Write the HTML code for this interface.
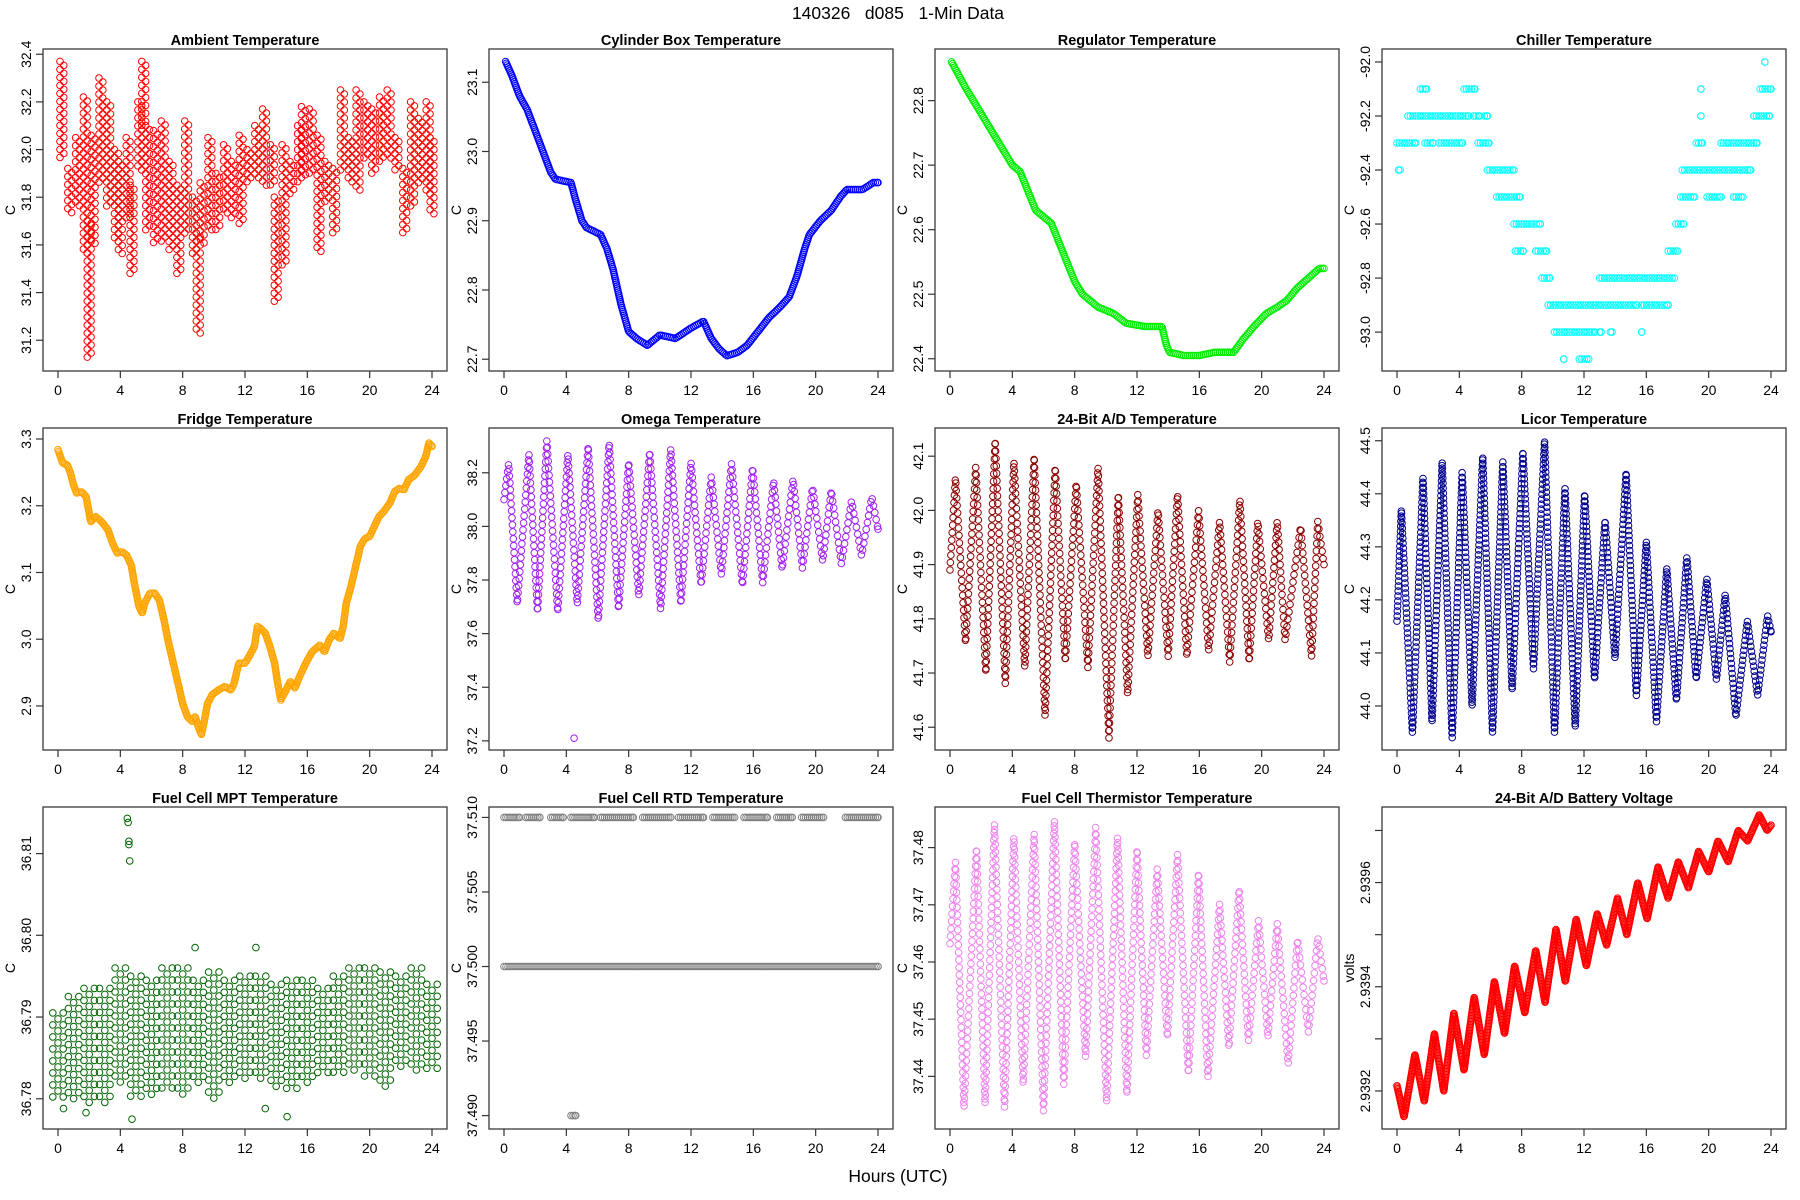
<!DOCTYPE html>
<html>
<head>
<meta charset="utf-8">
<style>
  html,body{margin:0;padding:0;background:#fff;}
  svg{display:block;font-family:"Liberation Sans",Arial,sans-serif;}
</style>
</head>
<body>
<svg id="fig" width="1800" height="1200" viewBox="0 0 1800 1200" xmlns="http://www.w3.org/2000/svg">
  <rect x="0" y="0" width="1800" height="1200" fill="#fff"/>
  <text x="898" y="19" text-anchor="middle" font-size="17.5" fill="#000" xml:space="preserve">140326   d085   1-Min Data</text>
  <text x="898" y="1182" text-anchor="middle" font-size="17.5" fill="#000">Hours (UTC)</text>
</svg>
<script>
// ---------------- DATA ----------------
const ambBinT = [0.25,0.75,1.25,1.75,2.0,2.25,2.75,3.25,3.75,4.0,4.5,4.75,5.25,5.5,5.75,6.25,6.75,7.25,7.75,8.25,8.75,9.0,9.25,9.75,10.25,10.75,11.25,11.75,12.25,12.75,13.25,13.75,14.0,14.5,15.0,15.5,15.75,16.25,16.75,17.25,17.75,18.25,18.75,19.25,19.75,20.25,20.75,21.25,21.75,22.25,22.75,23.25,23.75,24.0];
const ambLo = [31.96,31.72,31.75,31.55,31.12,31.6,31.85,31.75,31.6,31.55,31.7,31.48,31.9,32.1,31.65,31.6,31.6,31.57,31.48,31.65,31.55,31.22,31.6,31.66,31.65,31.72,31.7,31.68,31.85,31.88,31.85,31.85,31.35,31.5,31.8,31.85,31.88,31.9,31.57,31.78,31.64,31.9,31.85,31.83,31.95,31.9,31.95,31.95,31.9,31.65,31.75,31.85,31.8,31.72];
const ambHi = [32.37,31.92,32.05,32.22,31.7,32.06,32.3,32.2,32.0,31.95,32.05,31.85,32.2,32.37,32.1,32.08,32.12,31.95,31.85,32.12,31.8,31.65,31.86,32.05,31.9,32.02,31.95,32.06,32.0,32.1,32.17,32.02,31.8,32.02,31.95,32.1,32.18,32.17,32.06,31.95,31.92,32.25,32.05,32.25,32.2,32.17,32.22,32.25,32.05,31.92,32.2,32.13,32.2,32.05];

const cylT = [0.1,0.5,1.0,1.5,2.0,2.5,3.0,3.3,4.3,4.6,5.0,5.3,6.2,6.6,7.0,7.5,8.0,8.5,9.2,10.0,11.0,12.0,12.8,13.3,13.8,14.3,15.0,15.6,16.3,17.0,17.7,18.3,18.8,19.3,19.6,20.3,21.0,21.6,22.0,23.0,23.7,24.0];
const cylV = [23.13,23.11,23.08,23.06,23.03,23.00,22.97,22.96,22.955,22.93,22.90,22.89,22.88,22.86,22.83,22.78,22.74,22.73,22.72,22.735,22.73,22.745,22.755,22.73,22.715,22.705,22.71,22.72,22.74,22.76,22.775,22.79,22.82,22.86,22.88,22.90,22.915,22.935,22.945,22.945,22.955,22.955];

const regT = [0.1,1,2,3,4,4.5,5,5.5,6.5,7.0,7.5,8.0,8.5,9.0,9.5,10.5,11.3,12.5,13.6,13.9,14.1,15.0,16.0,17.0,18.2,18.8,19.5,20.3,21.0,21.6,22.3,23.0,23.7,24];
const regV = [22.86,22.82,22.78,22.74,22.70,22.69,22.66,22.63,22.61,22.58,22.55,22.52,22.50,22.49,22.48,22.47,22.455,22.45,22.45,22.42,22.41,22.405,22.405,22.41,22.41,22.43,22.45,22.47,22.48,22.49,22.51,22.525,22.54,22.54];

const chillLevel = [-92.3,-92.3,-92.3,-92.3,-92.4,-92.2,-92.2,-92.2,-92.1,-92.1,-92.4,-92.5,-92.6,-92.7,-92.7,-92.8,-92.9,-92.9,-93.0,-93.0,-93.0,-93.0,-93.1,-93.1,-92.8,-92.7,-92.6,-92.5,-92.5,-92.5,-92.4,-92.3,-92.3,-92.2,-92.2,-92.1,-92.1,-92.0];
const chillStart = [0.0,1.8,2.7,5.2,0.1,0.7,4.9,5.6,1.5,4.3,5.8,6.4,7.5,7.6,8.9,9.3,9.7,15.7,10.1,13.0,13.7,15.7,10.7,11.7,13.0,17.4,17.9,18.2,19.9,21.6,18.3,19.2,20.8,19.5,22.9,19.5,23.3,23.6];
const chillEnd = [1.2,2.3,4.2,5.9,0.2,4.6,5.3,5.8,1.9,5.0,7.5,7.9,9.2,8.1,9.6,9.8,15.4,17.4,12.7,13.1,13.8,15.7,10.7,12.3,17.8,18.0,18.4,19.1,20.8,22.2,22.7,19.6,23.1,19.5,23.9,19.5,24.0,23.6];

const fridgeT = [0,0.3,0.6,0.8,1.0,1.2,1.5,1.8,2.0,2.1,2.4,2.8,3.2,3.5,3.8,4.1,4.4,4.7,4.9,5.2,5.4,5.6,5.9,6.2,6.5,6.8,7.1,7.4,7.7,8.0,8.3,8.6,8.8,9.0,9.2,9.4,9.6,9.9,10.3,10.7,11.1,11.3,11.6,12.0,12.3,12.6,12.8,13.0,13.3,13.6,13.9,14.1,14.3,14.6,14.9,15.2,15.5,15.9,16.3,16.8,17.1,17.4,17.7,18.1,18.3,18.5,18.8,19.1,19.4,19.7,20.0,20.3,20.6,20.9,21.3,21.6,21.9,22.2,22.5,22.9,23.3,23.6,23.8,24.0];
const fridgeV = [3.284,3.264,3.261,3.249,3.231,3.219,3.221,3.214,3.189,3.176,3.184,3.176,3.164,3.144,3.129,3.131,3.126,3.111,3.084,3.049,3.039,3.056,3.069,3.069,3.059,3.029,2.994,2.964,2.934,2.904,2.884,2.877,2.884,2.869,2.857,2.879,2.904,2.917,2.924,2.929,2.924,2.934,2.964,2.964,2.976,2.989,3.019,3.016,3.009,2.989,2.964,2.934,2.909,2.922,2.937,2.927,2.944,2.964,2.981,2.991,2.981,2.999,3.009,3.001,3.019,3.054,3.079,3.109,3.139,3.151,3.154,3.169,3.184,3.191,3.204,3.221,3.226,3.224,3.239,3.246,3.259,3.274,3.294,3.289];

const omegaT = [0,0.3,0.85,1.6,2.15,2.75,3.45,4.1,4.7,5.4,6.05,6.75,7.35,8.0,8.65,9.35,10.05,10.7,11.35,12.0,12.65,13.3,13.95,14.6,15.3,15.95,16.6,17.3,17.85,18.55,19.15,19.8,20.45,21.0,21.65,22.3,22.95,23.6,24];
const omegaV = [38.10,38.235,37.71,38.27,37.68,38.32,37.68,38.27,37.71,38.30,37.65,38.31,37.69,38.24,37.74,38.28,37.69,38.29,37.71,38.24,37.78,38.185,37.82,38.235,37.78,38.22,37.79,38.17,37.84,38.175,37.845,38.145,37.87,38.135,37.86,38.095,37.89,38.11,37.99];
const omegaOutT = [4.5];
const omegaOutV = [37.21];

const adT = [0,0.35,1.0,1.65,2.3,2.9,3.55,4.1,4.8,5.4,6.1,6.75,7.4,8.1,8.85,9.5,10.2,10.8,11.4,12.05,12.7,13.35,14.0,14.6,15.2,15.95,16.6,17.3,17.95,18.6,19.2,19.75,20.45,21.0,21.5,22.5,23.2,23.6,24];
const adV = [41.89,42.06,41.755,42.08,41.70,42.13,41.68,42.09,41.71,42.10,41.62,42.08,41.72,42.05,41.71,42.08,41.58,42.03,41.66,42.03,41.73,42.00,41.73,42.03,41.73,42.00,41.74,41.98,41.72,42.02,41.72,41.98,41.76,41.98,41.76,41.97,41.73,41.98,41.90];

const licorT = [0,0.28,0.99,1.67,2.25,2.9,3.54,4.18,4.82,5.5,6.13,6.79,7.39,8.08,8.76,9.47,10.11,10.78,11.44,12.04,12.68,13.35,13.99,14.7,15.36,16.0,16.65,17.31,17.93,18.6,19.2,19.88,20.5,21.06,21.75,22.48,23.14,23.78,24];
const licorV = [44.16,44.37,43.95,44.43,43.97,44.46,43.94,44.44,44.00,44.47,43.95,44.46,44.03,44.48,44.07,44.50,43.95,44.41,43.96,44.40,44.05,44.35,44.09,44.44,44.02,44.31,43.97,44.26,44.01,44.28,44.05,44.24,44.05,44.21,43.98,44.16,44.02,44.17,44.14];

const mptBinT = [0,1,2,3,4,5,6,7,8,9,10,11,12,13,14,15,16,17,18,19,20,21,22,23,24];
const mptLo = [36.7795,36.7795,36.7795,36.7795,36.7815,36.7800,36.7805,36.7810,36.7800,36.7815,36.7800,36.7815,36.7820,36.7825,36.7815,36.7810,36.7820,36.7830,36.7830,36.7830,36.7825,36.7815,36.7835,36.7835,36.7830];
const mptHi = [36.7905,36.7925,36.7935,36.7935,36.7960,36.7950,36.7945,36.7960,36.7960,36.7945,36.7955,36.7945,36.7950,36.7950,36.7940,36.7945,36.7945,36.7935,36.7950,36.7960,36.7960,36.7955,36.7950,36.7960,36.7940];
const mptOutT = [4.45,4.5,4.55,4.55,4.6,4.75,12.7,8.8,0.35,1.8,13.3,14.7];
const mptOutV = [36.8143,36.8138,36.8115,36.8111,36.8091,36.7775,36.7985,36.7985,36.7788,36.7783,36.7788,36.7778];

const rtdLevel = [37.510,37.510,37.510,37.510,37.510,37.510,37.510,37.510,37.510,37.510,37.510,37.510,37.500,37.490];
const rtdStart = [0.0,1.4,3.0,4.3,6.2,8.9,11.2,13.4,15.4,17.5,19.1,21.9,0.0,4.3];
const rtdEnd = [1.0,2.3,3.8,5.8,8.3,10.7,12.8,14.8,16.9,18.5,20.5,24.0,24.0,4.6];

const thermT = [0,0.35,0.9,1.7,2.25,2.85,3.5,4.1,4.7,5.4,6.0,6.7,7.3,8.0,8.7,9.35,10.05,10.75,11.35,12.0,12.6,13.3,13.95,14.6,15.3,15.95,16.55,17.3,17.9,18.55,19.15,19.8,20.4,21.0,21.7,22.3,23.0,23.6,24];
const thermV = [37.4632,37.4775,37.4345,37.4800,37.4351,37.4842,37.4345,37.4819,37.4386,37.4825,37.4339,37.4848,37.4386,37.4810,37.4433,37.4836,37.4354,37.4819,37.4368,37.4798,37.4436,37.4763,37.4468,37.4789,37.4404,37.4757,37.4398,37.4702,37.4450,37.4728,37.4462,37.4673,37.4468,37.4667,37.4421,37.4640,37.4477,37.4643,37.4567];

const battT = [0,0.45,1.15,1.75,2.4,3.0,3.65,4.3,4.95,5.6,6.25,6.9,7.55,8.2,8.9,9.5,10.2,10.8,11.5,12.15,12.85,13.45,14.15,14.75,15.45,16.05,16.75,17.4,18.05,18.7,19.35,20.0,20.6,21.25,21.9,22.5,23.25,23.75,24];
const battV = [2.93921,2.93915,2.93927,2.93918,2.93931,2.93920,2.93935,2.93924,2.93938,2.93927,2.93941,2.93931,2.93944,2.93935,2.93947,2.93937,2.93951,2.93941,2.93953,2.93944,2.93954,2.93948,2.93957,2.93950,2.93960,2.93953,2.93963,2.93957,2.93964,2.93959,2.93966,2.93962,2.93968,2.93964,2.93970,2.93968,2.93973,2.93970,2.93971];

const xTicks = [0,4,8,12,16,20,24];
const xTickLabels = ["0","4","8","12","16","20","24"];
const ambTicks = [31.2,31.4,31.6,31.8,32.0,32.2,32.4];
const ambTickLabels = ["31.2","31.4","31.6","31.8","32.0","32.2","32.4"];
const cylTicks = [22.7,22.8,22.9,23.0,23.1];
const cylTickLabels = ["22.7","22.8","22.9","23.0","23.1"];
const regTicks = [22.4,22.5,22.6,22.7,22.8];
const regTickLabels = ["22.4","22.5","22.6","22.7","22.8"];
const chillTicks = [-93.0,-92.8,-92.6,-92.4,-92.2,-92.0];
const chillTickLabels = ["-93.0","-92.8","-92.6","-92.4","-92.2","-92.0"];
const fridgeTicks = [2.9,3.0,3.1,3.2,3.3];
const fridgeTickLabels = ["2.9","3.0","3.1","3.2","3.3"];
const omegaTicks = [37.2,37.4,37.6,37.8,38.0,38.2];
const omegaTickLabels = ["37.2","37.4","37.6","37.8","38.0","38.2"];
const adTicks = [41.6,41.7,41.8,41.9,42.0,42.1];
const adTickLabels = ["41.6","41.7","41.8","41.9","42.0","42.1"];
const licorTicks = [44.0,44.1,44.2,44.3,44.4,44.5];
const licorTickLabels = ["44.0","44.1","44.2","44.3","44.4","44.5"];
const mptTicks = [36.78,36.79,36.80,36.81];
const mptTickLabels = ["36.78","36.79","36.80","36.81"];
const rtdTicks = [37.490,37.495,37.500,37.505,37.510];
const rtdTickLabels = ["37.490","37.495","37.500","37.505","37.510"];
const thermTicks = [37.44,37.45,37.46,37.47,37.48];
const thermTickLabels = ["37.44","37.45","37.46","37.47","37.48"];
const battTicks = [2.9392,2.9393,2.9394,2.9395,2.9396,2.9397];
const battTickLabels = ["2.9392","","2.9394","","2.9396",""];

// ---------------- RENDER ----------------
const NS = "http://www.w3.org/2000/svg";
const svg = document.getElementById('fig');
const LEFTS = [43,489,935,1382], TOPS = [49,428,807], PW = 404, PH = 322;

function mk(tag, attrs, parent){
  const el = document.createElementNS(NS, tag);
  for (const k in attrs) el.setAttribute(k, attrs[k]);
  parent.appendChild(el);
  return el;
}

function makePanel(col,row,title,ylab,vTop,vBot,ticks,labels,key){
  const L = LEFTS[col], T = TOPS[row];
  const g = mk('g',{},svg);
  
  
  const xs = t => L + 15 + t/24*374;
  const ys = v => T + (vTop - v)/(vTop - vBot)*PH;
  const marks = mk('g',{},g);
  
  
  const box = mk('rect',{x:L,y:T,width:PW,height:PH,fill:'none',stroke:'#3a3a3a','stroke-width':1.3},g);
  
  
  const tt = mk('text',{x:L+PW/2,y:T-4,'text-anchor':'middle','font-size':14.5,'font-weight':'bold',fill:'#000'},g);
  tt.textContent = title;
  
  
  const xa = mk('g',{},g);
  
  
  xTicks.forEach((t,i)=>{
    const x = xs(t);
    const tk = mk('line',{x1:x,x2:x,y1:T+PH,y2:T+PH+7,stroke:'#333','stroke-width':1.2},xa);
    
    
    const lb = mk('text',{x:x,y:T+PH+24,'text-anchor':'middle','font-size':14,fill:'#000'},xa);
    lb.textContent = xTickLabels[i];
    
    
  });
  const ya = mk('g',{},g);
  
  
  ticks.forEach((v,i)=>{
    const y = ys(v);
    const tk = mk('line',{x1:L-7,x2:L,y1:y,y2:y,stroke:'#333','stroke-width':1.2},ya);
    
    
    if (labels[i]) {
      const lb = mk('text',{x:0,y:0,'text-anchor':'middle','font-size':14,fill:'#000',transform:`translate(${L-12},${y}) rotate(-90)`},ya);
      lb.textContent = labels[i];
      
      
    }
  });
  const yl = mk('text',{x:0,y:0,'text-anchor':'middle','font-size':14,fill:'#000',transform:`translate(${L-28},${T+PH/2}) rotate(-90)`},g);
  yl.textContent = ylab;
  
  
  return {xs, ys, marks};
}

function circ(p, x, y, color){
  const c = mk('circle',{cx:x.toFixed(1),cy:y.toFixed(1),r:3.3,fill:'none',stroke:color,'stroke-width':1},p.marks);
  
  
}

function chain(p, T, V, color, step){
  let carry = 0;
  for (let i=0;i<T.length-1;i++){
    const x0=p.xs(T[i]), y0=p.ys(V[i]), x1=p.xs(T[i+1]), y1=p.ys(V[i+1]);
    const len = Math.hypot(x1-x0,y1-y0);
    let s = carry;
    while (s <= len){
      const f = len ? s/len : 0;
      circ(p, x0+(x1-x0)*f, y0+(y1-y0)*f, color);
      s += step;
    }
    carry = s - len;
  }
  circ(p, p.xs(T[T.length-1]), p.ys(V[V.length-1]), color);
}

function runs(p, lev, st, en, color, step){
  lev.forEach((v,i)=>{
    const y = p.ys(v), x0 = p.xs(st[i]), x1 = p.xs(en[i]);
    for (let x = x0; x <= x1 + 0.01; x += step) circ(p, x, y, color);
    circ(p, x1, y, color);
  });
}

function cloud(p, T, lo, hi, color, ncol, dx, step){
  T.forEach((t,i)=>{
    const cx = p.xs(t), yHi = p.ys(hi[i]), yLo = p.ys(lo[i]);
    for (let k=0;k<ncol;k++){
      const x = cx + (k-(ncol-1)/2)*dx;
      for (let y = yHi + (k%2)*step/2; y <= yLo; y += step) circ(p, x, y, color);
    }
  });
}

function points(p, T, V, color){
  T.forEach((t,i)=> circ(p, p.xs(t), p.ys(V[i]), color));
}

let p;
p = makePanel(0,0,'Ambient Temperature','C',32.422,31.071,ambTicks,ambTickLabels,'ambient');
cloud(p, ambBinT, ambLo, ambHi, '#ff0000', 2, 3.8, 8);

p = makePanel(1,0,'Cylinder Box Temperature','C',23.148,22.683,cylTicks,cylTickLabels,'cylinder-box');
chain(p, cylT, cylV, '#0000ff', 2);

p = makePanel(2,0,'Regulator Temperature','C',22.88,22.381,regTicks,regTickLabels,'regulator');
chain(p, regT, regV, '#00ee00', 2);

p = makePanel(3,0,'Chiller Temperature','C',-91.952,-93.144,chillTicks,chillTickLabels,'chiller');
runs(p, chillLevel, chillStart, chillEnd, '#00ffff', 2.5);

p = makePanel(0,1,'Fridge Temperature','C',3.3165,2.834,fridgeTicks,fridgeTickLabels,'fridge');
chain(p, fridgeT, fridgeV, '#ffa500', 1.8);

p = makePanel(1,1,'Omega Temperature','C',38.367,37.166,omegaTicks,omegaTickLabels,'omega');
chain(p, omegaT, omegaV, '#a020f0', 7);
points(p, omegaOutT, omegaOutV, '#a020f0');

p = makePanel(2,1,'24-Bit A/D Temperature','C',42.152,41.558,adTicks,adTickLabels,'ad-temperature');
chain(p, adT, adV, '#8b0000', 7.5);

p = makePanel(3,1,'Licor Temperature','C',44.524,43.917,licorTicks,licorTickLabels,'licor');
chain(p, licorT, licorV, '#00008b', 5);

p = makePanel(0,2,'Fuel Cell MPT Temperature','C',36.8157,36.7763,mptTicks,mptTickLabels,'fuel-cell-mpt');
cloud(p, mptBinT, mptLo, mptHi, '#006400', 3, 5.2, 12);
points(p, mptOutT, mptOutV, '#006400');

p = makePanel(1,2,'Fuel Cell RTD Temperature','C',37.5107,37.4891,rtdTicks,rtdTickLabels,'fuel-cell-rtd');
runs(p, rtdLevel, rtdStart, rtdEnd, '#808080', 2);

p = makePanel(2,2,'Fuel Cell Thermistor Temperature','C',37.4871,37.4308,thermTicks,thermTickLabels,'fuel-cell-thermistor');
chain(p, thermT, thermV, '#ee82ee', 7.5);

p = makePanel(3,2,'24-Bit A/D Battery Voltage','volts',2.939745,2.939127,battTicks,battTickLabels,'battery-voltage');
chain(p, battT, battV, '#ff0000', 1.5);
</script>
</body>
</html>
